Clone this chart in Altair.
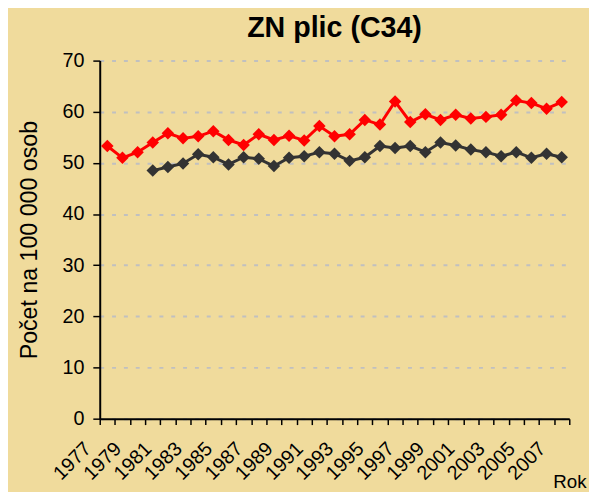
import altair as alt
import pandas as pd

# ---- data ----
years = list(range(1977, 2008))
red_values = [53.3, 51.0, 52.1, 54.0, 55.8, 54.8, 55.2, 56.2, 54.5, 53.5,
              55.6, 54.5, 55.3, 54.4, 57.2, 55.2, 55.6, 58.4, 57.5, 62.0,
              58.0, 59.5, 58.4, 59.4, 58.7, 59.0, 59.4, 62.2, 61.7, 60.6, 61.9]
dark_years = list(range(1980, 2008))
dark_values = [48.5, 49.2, 49.9, 51.7, 51.1, 49.7, 51.1, 50.8, 49.4, 51.0,
               51.3, 52.1, 51.8, 50.4, 51.1, 53.3, 52.9, 53.3, 52.1, 54.0,
               53.4, 52.6, 52.1, 51.3, 52.1, 51.0, 51.8, 51.1]
series_names = ["A", "B"]
series_colors = ["#FF0000", "#333333"]
y_ticks = [0, 10, 20, 30, 40, 50, 60, 70]

df = pd.concat([
    pd.DataFrame({"Rok": years, "val": red_values, "serie": series_names[0]}),
    pd.DataFrame({"Rok": dark_years, "val": dark_values, "serie": series_names[1]}),
])

FONT = "Liberation Sans"

x_enc = alt.X(
    "Rok:O",
    bandPosition=0.5,
    scale=alt.Scale(type="band", paddingInner=0, paddingOuter=0),
    axis=alt.Axis(
        title="Rok",
        titleFont=FONT, titleFontSize=19, titleFontWeight="normal", titleColor="black",
        titleAnchor="end", titleAlign="right", titleBaseline="alphabetic",
        titleX=493, titleY=70,
        labelAngle=-45, labelAlign="right", labelBaseline="middle",
        labelFont=FONT, labelFontSize=20, labelColor="black",
        labelOffset=-20, labelPadding=21, labelOverlap=False,
        labelExpr="datum.value % 2 == 1 ? datum.label : ''",
        tickBand="extent", tickSize=6, tickWidth=1.5, tickColor="black",
        domainColor="black", domainWidth=2, grid=False,
    ),
)
y_enc = alt.Y(
    "val:Q",
    scale=alt.Scale(domain=[0, 70], nice=False),
    axis=alt.Axis(
        values=y_ticks,
        title="Počet na 100 000 osob",
        titleFont=FONT, titleFontSize=23.5, titleFontWeight="normal", titleColor="black",
        titleX=-59, titleBaseline="bottom",
        labelFont=FONT, labelFontSize=20, labelColor="black", labelPadding=9,
        tickSize=7, tickWidth=1.5, tickColor="black",
        domainColor="black", domainWidth=2,
        grid=True, gridColor="#C0C0C0", gridDash=[4, 8], gridWidth=2,
    ),
)
color_enc = alt.Color("serie:N", scale=alt.Scale(domain=series_names, range=series_colors), legend=None)

base = alt.Chart(df).encode(x=x_enc, y=y_enc, color=color_enc, detail="serie:N")
lines = base.mark_line(strokeWidth=3)
points = base.mark_point(shape="diamond", size=160, filled=True, opacity=1)

chart = (lines + points).properties(
    width=476,
    height=363,
    title=alt.TitleParams("ZN plic (C34)", font=FONT, fontSize=29, fontWeight="bold",
                          color="black", anchor="middle", offset=8),
    autosize=alt.AutoSizeParams(type="none"),
    padding={"left": 93, "top": 50, "right": 20, "bottom": 71},
    background="#F0DB9C",
).configure_view(stroke=None)

chart.save("out.html", embed_options={"renderer": "svg", "actions": False})
